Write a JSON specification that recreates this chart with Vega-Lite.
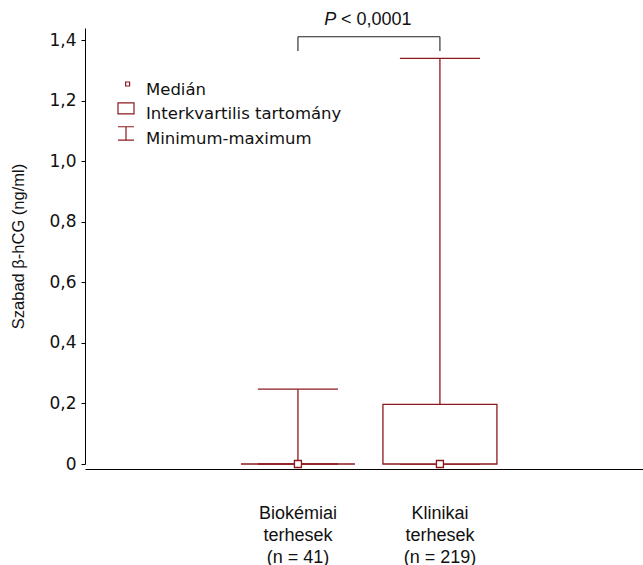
{
  "$schema": "https://vega.github.io/schema/vega-lite/v6.json",
  "autosize": {"type": "none"},
  "padding": {"left": 85, "top": 28, "right": 0, "bottom": 101},
  "width": 558,
  "height": 436,
  "config": {"view": {"stroke": null}, "font": "Liberation Sans"},
  "data": {"values": [
    {"group": "Biokémiai", "n": 41, "min": 0, "q1": 0, "median": 0, "q3": 0, "max": 0.247},
    {"group": "Klinikai", "n": 219, "min": 0, "q1": 0, "median": 0, "q3": 0.197, "max": 1.34}
  ]},
  "layer": [
    {
      "mark": {"type": "rule", "color": "#8b1a1f", "strokeWidth": 1.3},
      "encoding": {
        "x": {"field": "group", "type": "nominal", "bandPosition": 0.5,
          "scale": {"domain": ["Biokémiai", "Klinikai"], "paddingInner": 0, "paddingOuter": 0.965, "align": 0.518},
          "axis": {"title": null, "offset": 5, "ticks": false, "domainColor": "#000", "domainWidth": 1.2,
            "labelFont": "Liberation Sans", "labelFontSize": 18, "labelColor": "#111", "labelLineHeight": 22,
            "labelPadding": 35, "labelAngle": 0,
            "labelExpr": "datum.value == 'Biokémiai' ? ['Biokémiai', 'terhesek', '(n = 41)'] : ['Klinikai', 'terhesek', '(n = 219)']"}},
        "y": {"field": "q3", "type": "quantitative",
          "scale": {"domain": [0, 1.44], "nice": false, "zero": false},
          "axis": {"title": "Szabad β-hCG (ng/ml)", "values": [0, 0.2, 0.4, 0.6, 0.8, 1.0, 1.2, 1.4],
            "grid": false, "domainColor": "#000", "tickColor": "#000", "tickSize": 4,
            "labelFont": "DejaVu Sans", "labelFontSize": 17, "labelColor": "#111", "labelPadding": 5,
            "labelExpr": "datum.value == 0 ? '0' : replace(format(datum.value, '.1f'), '.', ',')",
            "titleFont": "Liberation Sans", "titleFontSize": 16.5, "titleFontWeight": "normal", "titleColor": "#111", "titlePadding": 22}},
        "y2": {"field": "max"}
      }
    },
    {
      "mark": {"type": "rule", "color": "#8b1a1f", "strokeWidth": 1.3},
      "encoding": {
        "x": {"field": "group", "type": "nominal", "bandPosition": 0.218},
        "x2": {"field": "group", "bandPosition": 0.782},
        "y": {"field": "max", "type": "quantitative"}
      }
    },
    {
      "mark": {"type": "rule", "color": "#8b1a1f", "strokeWidth": 1.3},
      "encoding": {
        "x": {"field": "group", "type": "nominal", "bandPosition": 0.218},
        "x2": {"field": "group", "bandPosition": 0.782},
        "y": {"field": "min", "type": "quantitative"}
      }
    },
    {
      "mark": {"type": "rect", "fill": "white", "stroke": "#8b1a1f", "strokeWidth": 1.3},
      "encoding": {
        "x": {"field": "group", "type": "nominal", "bandPosition": 0.0986},
        "x2": {"field": "group", "bandPosition": 0.9014},
        "y": {"field": "q1", "type": "quantitative"},
        "y2": {"field": "q3"}
      }
    },
    {
      "mark": {"type": "point", "shape": "square", "size": 49, "filled": true, "fill": "white", "stroke": "#8b1a1f", "strokeWidth": 1.3, "opacity": 1},
      "encoding": {
        "x": {"field": "group", "type": "nominal", "bandPosition": 0.5},
        "y": {"field": "median", "type": "quantitative"}
      }
    },
    {
      "data": {"values": [{}]},
      "mark": {"type": "rule", "color": "#222", "strokeWidth": 1.1},
      "encoding": {
        "x": {"datum": "Biokémiai", "type": "nominal", "bandPosition": 0.5},
        "x2": {"datum": "Klinikai", "bandPosition": 0.5},
        "y": {"datum": 1.411, "type": "quantitative"}
      }
    },
    {
      "data": {"values": [{"g": "Biokémiai"}, {"g": "Klinikai"}]},
      "mark": {"type": "rule", "color": "#222", "strokeWidth": 1.1},
      "encoding": {
        "x": {"field": "g", "type": "nominal", "bandPosition": 0.5},
        "y": {"datum": 1.364, "type": "quantitative"},
        "y2": {"datum": 1.411}
      }
    },
    {
      "data": {"values": [{"t": "P"}]},
      "mark": {"type": "text", "align": "right", "baseline": "middle", "font": "Liberation Sans", "fontSize": 18, "fontStyle": "italic", "color": "#111"},
      "encoding": {
        "x": {"datum": "Biokémiai", "type": "nominal", "bandPosition": 0.77},
        "y": {"datum": 1.466, "type": "quantitative"},
        "text": {"field": "t"}
      }
    },
    {
      "data": {"values": [{"t": "< 0,0001"}]},
      "mark": {"type": "text", "align": "left", "baseline": "middle", "font": "Liberation Sans", "fontSize": 18, "color": "#111"},
      "encoding": {
        "x": {"datum": "Biokémiai", "type": "nominal", "bandPosition": 0.803},
        "y": {"datum": 1.466, "type": "quantitative"},
        "text": {"field": "t"}
      }
    },
    {
      "data": {"values": [{"item": "Medián"}, {"item": "Interkvartilis tartomány"}, {"item": "Minimum-maximum"}]},
      "mark": {"type": "point", "color": "#8b1a1f", "filled": false, "opacity": 0},
      "encoding": {
        "shape": {"field": "item", "type": "nominal",
          "scale": {"domain": ["Medián", "Interkvartilis tartomány", "Minimum-maximum"],
            "range": ["M-0.05,-1H0.45V-0.5H-0.05Z", "M-1,-1.39H1V-0.01H-1Z", "M-1,-1.53H1M0,-1.53V0.13M-1,0.13H1"]},
          "legend": {"orient": "none", "legendX": 32, "legendY": 53, "title": null, "padding": 0,
            "symbolSize": 256, "symbolStrokeColor": "#8b1a1f", "symbolFillColor": "white", "symbolStrokeWidth": 1.2, "symbolOpacity": 1,
            "labelFont": "DejaVu Sans", "labelFontSize": 16.5, "labelColor": "#111", "labelOffset": 11, "rowPadding": 1, "labelLimit": 400,
            "encode": {
              "symbols": {"update": {"opacity": {"value": 1}, "stroke": {"value": "#8b1a1f"}, "fill": {"value": "white"}, "strokeWidth": {"value": 1.2}}}}}}
      }
    }
  ]
}
